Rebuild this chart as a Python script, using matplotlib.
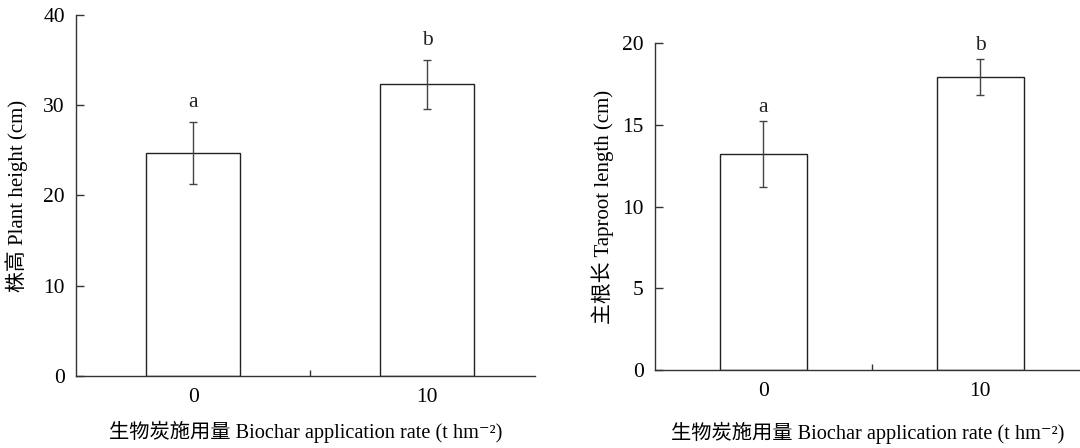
import numpy as np
import matplotlib.pyplot as plt

fams = ['Liberation Serif', 'Noto Sans CJK SC', 'DejaVu Serif']
plt.rcParams['font.family'] = fams

rates = ['0', '10']
height = [24.7, 32.3]
height_err = [3.4, 2.7]
height_sig = ['a', 'b']
taproot = [13.2, 17.9]
taproot_err = [2.0, 1.1]
taproot_sig = ['a', 'b']

xlab = '生物炭施用量 Biochar application rate (t hm\u207b\u00b2)'
line_c = '#333333'

fig = plt.figure(figsize=(10.8, 4.48), dpi=100)
ax1 = fig.add_axes([0.0704, 0.1607, 0.425, 0.806])
ax2 = fig.add_axes([0.6065, 0.174, 0.3935, 0.730])


def panel(ax, vals, errs, sig, ylim, yticks, ylabel, ylab_x, xlab_y, off):
    x = np.arange(len(vals))
    ax.bar(x, vals, width=0.4, color='white', edgecolor='#222222', linewidth=1.0, zorder=2)
    ax.errorbar(x, vals, yerr=errs, fmt='none', ecolor='#444444', elinewidth=1.0,
                capsize=3, capthick=1.0, zorder=3)
    for xi, v, e, s in zip(x, vals, errs, sig):
        ax.annotate(s, (xi, v + e), xytext=(0, off), textcoords='offset points',
                    ha='center', va='center', fontsize=15.5, color='#222222')
    ax.set_xlim(-0.5, 1.46)
    ax.set_ylim(*ylim)
    ax.set_yticks(yticks)
    ax.set_xticks(x)
    ax.set_xticklabels(rates)
    ax.set_xticks([0.5], minor=True)
    ax.tick_params(axis='x', which='major', length=0, pad=8.5, labelsize=15.5)
    ax.tick_params(axis='x', which='minor', direction='in', length=4, width=1.0, color=line_c)
    ax.tick_params(axis='y', direction='in', length=6, width=1.0, color=line_c,
                   pad=8, labelsize=15.5)
    for sp in ['top', 'right']:
        ax.spines[sp].set_visible(False)
    for sp in ['left', 'bottom']:
        ax.spines[sp].set_color(line_c)
        ax.spines[sp].set_linewidth(1.0)
    ax.set_ylabel(ylabel, fontsize=15, va='center')
    ax.yaxis.set_label_coords(ylab_x, 0.5)
    ax.set_xlabel(xlab, fontsize=14.6, va='center')
    ax.xaxis.set_label_coords(0.5, xlab_y)


panel(ax1, height, height_err, height_sig, (0, 40), [0, 10, 20, 30, 40],
      '株高 Plant height (cm)', -0.129, -0.155, 14)
panel(ax2, taproot, taproot_err, taproot_sig, (0, 20), [0, 5, 10, 15, 20],
      '主根长 Taproot length (cm)', -0.122, -0.193, 10)

fig.savefig('out.png', dpi=100)
